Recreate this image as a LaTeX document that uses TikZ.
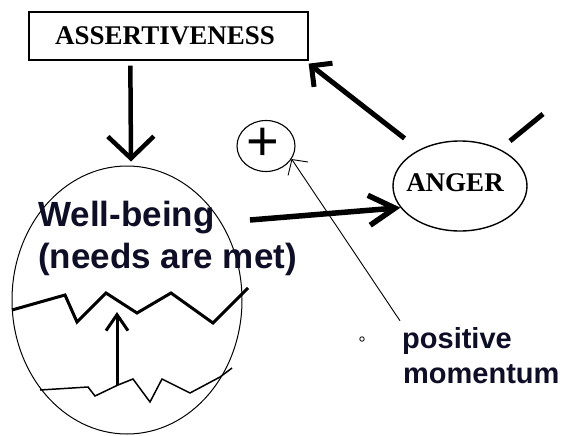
\documentclass[tikz,border=0pt]{standalone}
\usepackage{fontspec}
\setmainfont{Liberation Serif}
\newfontfamily\arialfont{Liberation Sans}
\usetikzlibrary{arrows.meta,shapes.geometric}
\definecolor{navy}{RGB}{14,14,38}
\begin{document}
\begin{tikzpicture}[x=1pt,y=-1pt,
  serifcap/.style={inner sep=0pt, font=\bfseries\fontsize{27}{27}\selectfont},
  sanstext/.style={anchor=base west, inner sep=0pt, text=navy},
  bigarrow/.style={line width=4.5pt, -{Straight Barb[length=22pt,width=46pt]}},
  rightarrow/.style={line width=5.5pt, -{Straight Barb[length=26pt,width=30pt]}},
  backarrow/.style={line width=5pt, -{Straight Barb[length=15pt,width=30pt]}},
  thinarrow/.style={line width=0.9pt, -{Straight Barb[length=11pt,width=24pt]}},
  uparrow/.style={line width=3pt, -{Straight Barb[length=16pt,width=22pt]}},
  oval/.style={ellipse, draw, inner sep=0pt}]
\useasboundingbox (0,0) rectangle (568,436);
\fill[white] (0,0) rectangle (568,436);

% boxes and ovals
\node[draw, line width=1.3pt, minimum width=279pt, minimum height=48pt, serifcap] (assert) at (168.5,36) {ASSERTIVENESS\hspace*{7pt}};
\node[oval, line width=1pt, minimum width=230pt, minimum height=268pt] (wb) at (127,300) {};
\node[oval, line width=1.4pt, minimum width=134pt, minimum height=90pt] (anger) at (460,186) {};
\node[serifcap] (angertext) at (455,182.5) {ANGER};
\node[oval, line width=1.1pt, minimum width=58pt, minimum height=51pt] (plus) at (266,146) {};
\node[inner sep=0pt, font=\arialfont\fontsize{56}{56}\selectfont] (plustext) at (263,144) {+};

% texts
\node[sanstext, font=\arialfont\bfseries\fontsize{35}{35}\selectfont] (wb1) at (38,226) {Well-being};
\node[sanstext, font=\arialfont\bfseries\fontsize{35}{35}\selectfont] (wb2) at (38,268) {(needs are met)};
\node[sanstext, font=\arialfont\bfseries\fontsize{29}{29}\selectfont] (pm1) at (402,348) {positive};
\node[sanstext, font=\arialfont\bfseries\fontsize{29}{29}\selectfont] (pm2) at (403,383) {momentum};
\node[circle, draw, line width=0.8pt, minimum size=4.5pt, inner sep=0pt] (bullet) at (362,339) {};

% connectors
\draw[bigarrow] ([shift={(102pt,-5pt)}]assert.south west) -- ([shift={(4pt,4pt)}]wb.north);
\coordinate (wbout) at (250,220);
\draw[rightarrow] (wbout) -- (anger.200);
\draw[backarrow] ([shift={(-13pt,12pt)}]anger.140) -- ([yshift=-3pt]assert.south east);
\coordinate (dashA) at (510,141);
\coordinate (dashB) at (543,114);
\draw[line width=5pt] (dashA) -- (dashB);
\draw[thinarrow] ([shift={(-2pt,6pt)}]pm1.north west) -- (plus.-27);

% zigzag levels inside the well-being oval
\draw[line width=3pt, line join=miter] (12,310) -- (65,295) -- (77,322) -- (106,293) -- (137,313) -- (171,293) -- (213,323) -- (248,288);
\draw[line width=1.5pt] (40,390) -- (88,387) -- (95,396) -- (118,385) -- (133,379) -- (150,402) -- (162,379) -- (190,393) -- (220,377) -- (232,368);
\draw[uparrow] (117,385) -- (117,312);
\end{tikzpicture}
\end{document}
